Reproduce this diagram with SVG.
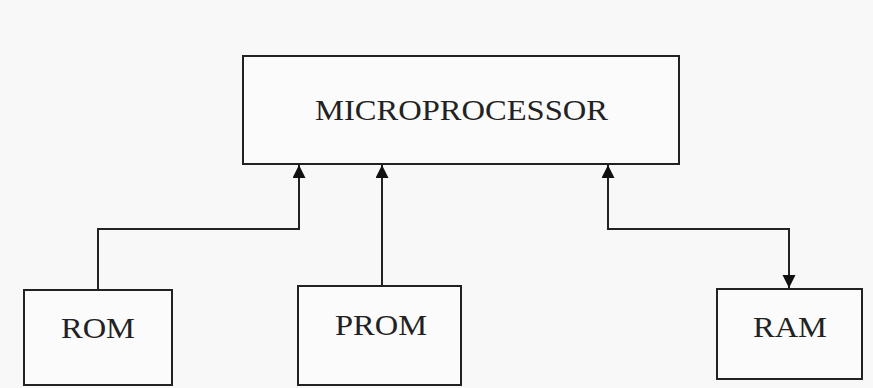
<svg xmlns="http://www.w3.org/2000/svg" width="873" height="388" viewBox="0 0 873 388">
<defs>
<marker id="ah" viewBox="0 0 13 14" refX="13" refY="6.5" markerWidth="13" markerHeight="14" markerUnits="userSpaceOnUse" orient="auto">
<path d="M0,0 L13,6.5 L0,13 Z" fill="#111"/>
</marker>
</defs>
<style>
.box{fill:#fbfbfb;stroke:#222;stroke-width:2}
.lbl{font-family:"Liberation Serif",serif;font-size:30px;fill:#222}
.con{fill:none;stroke:#222;stroke-width:2}
</style>
<rect width="873" height="388" fill="#f8f8f8"/>
<g id="microprocessor">
<rect class="box" x="243" y="56" width="436" height="108"/>
<text class="lbl" x="315" y="120" textLength="293" lengthAdjust="spacingAndGlyphs">MICROPROCESSOR</text>
</g>
<g id="rom">
<rect class="box" x="24" y="290" width="148" height="95"/>
<text class="lbl" x="61" y="338" textLength="74" lengthAdjust="spacingAndGlyphs">ROM</text>
</g>
<g id="prom">
<rect class="box" x="298" y="286" width="163" height="99"/>
<text class="lbl" x="335" y="335" textLength="92" lengthAdjust="spacingAndGlyphs">PROM</text>
</g>
<g id="ram">
<rect class="box" x="717" y="289" width="145" height="90"/>
<text class="lbl" x="753" y="337" textLength="74" lengthAdjust="spacingAndGlyphs">RAM</text>
</g>
<g id="connectors">
<path class="con" d="M98,290 V229 H299 V165" marker-end="url(#ah)"/>
<path class="con" d="M382,286 V165" marker-end="url(#ah)"/>
<path class="con" d="M789,229 H608 V165" marker-end="url(#ah)"/>
<path class="con" d="M608,229 H789 V288" marker-end="url(#ah)"/>
</g>
</svg>
